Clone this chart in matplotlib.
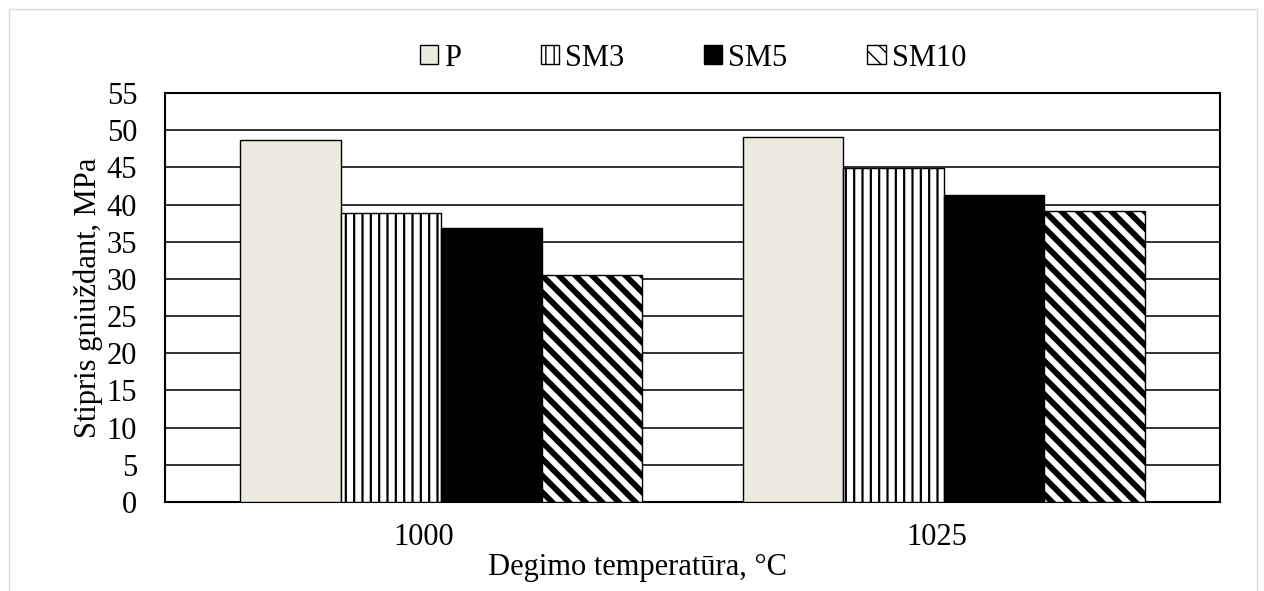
import matplotlib
matplotlib.use("Agg")
import matplotlib.pyplot as plt
from matplotlib.patches import Rectangle
import numpy as np

categories = ["1000", "1025"]
series = ["P", "SM3", "SM5", "SM10"]
values_P = [48.7, 49.1]
values_SM3 = [38.9, 44.9]
values_SM5 = [36.9, 41.3]
values_SM10 = [30.5, 39.1]
yticks = [0, 5, 10, 15, 20, 25, 30, 35, 40, 45, 50, 55]

plt.rcParams['font.family'] = ['Liberation Serif', 'DejaVu Serif']
FS = 22
plt.rcParams['font.size'] = FS

W, H = 1264, 591
fig = plt.figure(figsize=(W/100, H/100), dpi=100)
L, R, T, B = 165, 1220, 93, 502
ax = fig.add_axes([L/W, 1-B/H, (R-L)/W, (B-T)/H])

x = np.arange(len(categories))
w = 0.2
styles = [
    dict(facecolor='#EDEADF', hatch=None, hlw=1.0),
    dict(facecolor='white', hatch='||', hlw=1.6),
    dict(facecolor='black', hatch=None, hlw=1.0),
    dict(facecolor='white', hatch='\\\\', hlw=4.2),
]
allvals = [values_P, values_SM3, values_SM5, values_SM10]
for i, (name, vals, st) in enumerate(zip(series, allvals, styles)):
    with plt.rc_context({'hatch.linewidth': st['hlw'], 'hatch.color': 'black'}):
        bars = ax.bar(x + (i - 1.5) * w, vals, width=w, facecolor=st['facecolor'],
                      edgecolor='black', linewidth=1.0, hatch=st['hatch'],
                      label=name, zorder=3)
        for b in bars:
            if hasattr(b, 'set_hatch_linewidth'):
                b.set_hatch_linewidth(st['hlw'])

# group centres at 441 and 943.5 px, 1 unit = 502.5 px
unit = 502.5
c0 = 441
ax.set_xlim((L - c0)/unit, (R - c0)/unit)
ax.set_ylim(0, 55)
ax.set_yticks(yticks)
ax.set_xticks([(424 - c0)/unit, (937 - c0)/unit])
ax.set_xticklabels(categories)
ax.tick_params(axis='y', length=0, pad=20, labelsize=FS)
ax.tick_params(axis='x', length=0, pad=15, labelsize=FS)
ax.yaxis.grid(True, color='#222222', linewidth=1.3, zorder=0)
ax.set_axisbelow(True)
for s in ax.spines.values():
    s.set_color('black')
    s.set_linewidth(1.5)

fig.text(88/W, 1-298/H, "Stipris gniuždant, MPa", rotation=90, ha='center', va='center', fontsize=FS)
fig.text(638/W, 1-568/H, "Degimo temperatūra, °C", ha='center', va='center', fontsize=FS)

leg = fig.legend(loc='center', bbox_to_anchor=(693/W, 1-58/H), ncol=4, frameon=False,
                 handlelength=0.6, handleheight=0.6, handletextpad=0.2,
                 columnspacing=2.6, fontsize=FS, borderaxespad=0.0)

fig.patches.append(Rectangle((9/W, -0.05), (1257-9)/W, 1.05 - 9/H,
                             transform=fig.transFigure, fill=False,
                             edgecolor='#D9D9D9', linewidth=1.0))

fig.savefig("out.png", dpi=100)
